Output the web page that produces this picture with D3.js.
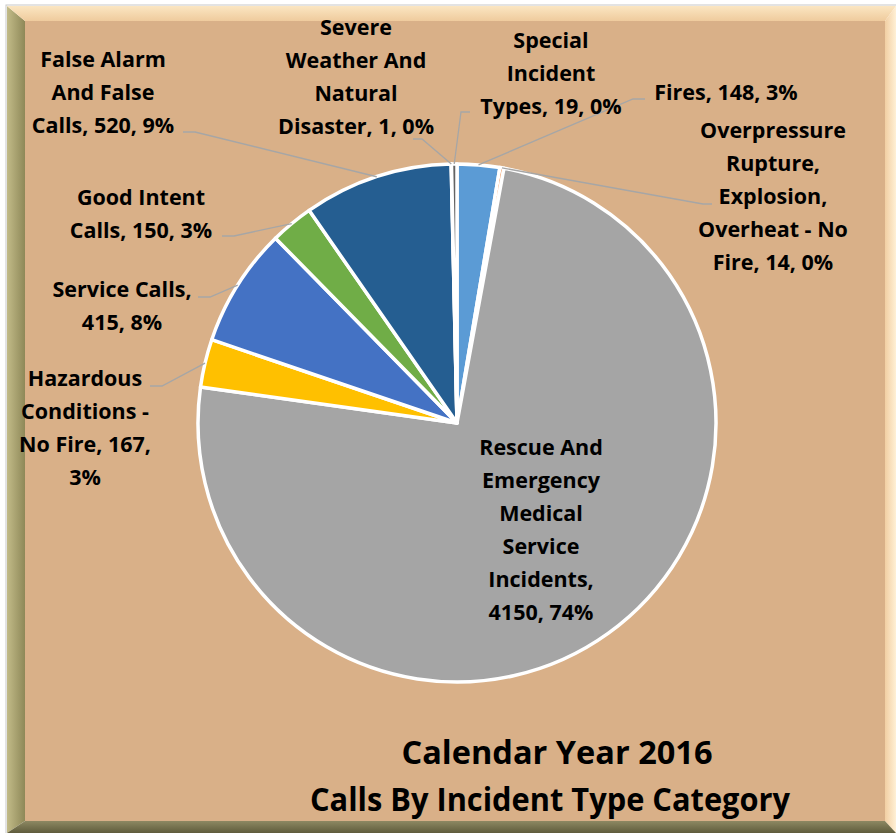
<!DOCTYPE html>
<html>
<head>
<meta charset="utf-8">
<script src="https://cdn.jsdelivr.net/npm/d3@7"></script>
<style>
  body { margin: 0; background: #ffffff; }
  svg { display: block; }
  .lbl { font-family: "Open Sans", Lato, sans-serif; font-weight: bold; font-size: 21.5px; fill: #000; }
  .ttl { font-family: "Open Sans", Lato, sans-serif; font-weight: bold; font-size: 33px; fill: #000; }
</style>
</head>
<body>
<script>
// data
var categories = ["Fires", "Overpressure Rupture, Explosion, Overheat - No Fire",
  "Rescue And Emergency Medical Service Incidents", "Hazardous Conditions - No Fire",
  "Service Calls", "Good Intent Calls", "False Alarm And False Calls",
  "Severe Weather And Natural Disaster", "Special Incident Types"];
var values = [148, 14, 4150, 167, 415, 150, 520, 1, 19];
var percents = ["3%", "0%", "74%", "3%", "8%", "3%", "9%", "0%", "0%"];
var colors = ["#5B9BD5", "#ED7D31", "#A5A5A5", "#FFC000", "#4472C4", "#70AD47", "#255E91", "#9E480E", "#636363"];
var labelLines = [
  ["Fires, 148, 3%"],
  ["Overpressure", "Rupture,", "Explosion,", "Overheat - No", "Fire, 14, 0%"],
  ["Rescue And", "Emergency", "Medical", "Service", "Incidents,", "4150, 74%"],
  ["Hazardous", "Conditions -", "No Fire, 167,", "3%"],
  ["Service Calls,", "415, 8%"],
  ["Good Intent", "Calls, 150, 3%"],
  ["False Alarm", "And False", "Calls, 520, 9%"],
  ["Severe", "Weather And", "Natural", "Disaster, 1, 0%"],
  ["Special", "Incident", "Types, 19, 0%"]
];
var titleLines = ["Calendar Year 2016", "Calls By Incident Type Category"];

// layout: label centre x, first baseline y, leader elbow and end (null = no leader)
var labelPos = [
  {x: 726, y: 100, elbow: [633, 99], end: [645, 99]},
  {x: 773, y: 138, elbow: [703, 204], end: [712, 204]},
  {x: 541, y: 455, elbow: null, end: null},
  {x: 85, y: 386, elbow: [162, 386], end: [150, 386]},
  {x: 122, y: 297, elbow: [210, 297], end: [198, 297]},
  {x: 141, y: 205, elbow: [234, 236], end: [222, 236]},
  {x: 103, y: 67, elbow: [195, 132], end: [183, 132]},
  {x: 356, y: 35, elbow: [422, 139], end: [413, 139]},
  {x: 551, y: 48, elbow: [461, 112], end: [470, 112]}
];

var width = 896, height = 833;
var cx = 457, cy = 423, radius = 259;
var lineH = 33;

var svg = d3.select("body").append("svg")
  .attr("width", width).attr("height", height);

// frame with bevel
var defs = svg.append("defs");
function grad(id, x1, y1, x2, y2, c1, c2) {
  var g = defs.append("linearGradient").attr("id", id)
    .attr("x1", x1).attr("y1", y1).attr("x2", x2).attr("y2", y2);
  g.append("stop").attr("offset", "0%").attr("stop-color", c1);
  g.append("stop").attr("offset", "100%").attr("stop-color", c2);
}
grad("gLeft", 0, 0, 1, 0, "#c2bb88", "#8e8858");
grad("gTop", 0, 0, 0, 1, "#fbe6c2", "#efcb9d");
grad("gRight", 0, 0, 1, 0, "#f2cfa3", "#fff0d6");
grad("gBottom", 0, 0, 0, 1, "#8d8862", "#5f5c3c");

var ox0 = 7, oy0 = 6, ox1 = 896, oy1 = 833;
var ix0 = 25, iy0 = 21, ix1 = 885, iy1 = 821;

svg.append("rect").attr("x", ox0 - 1).attr("y", oy0 - 1)
  .attr("width", ox1 - ox0 + 2).attr("height", oy1 - oy0 + 2)
  .attr("fill", "none").attr("stroke", "#c8c8c8").attr("stroke-width", 1);
svg.append("rect").attr("x", ix0).attr("y", iy0)
  .attr("width", ix1 - ix0).attr("height", iy1 - iy0).attr("fill", "#d9b088");

var bevel = [
  {pts: [[ox0, oy0], [ix0, iy0], [ix0, iy1], [ox0, oy1]], fill: "url(#gLeft)"},
  {pts: [[ox0, oy0], [ox1, oy0], [ix1, iy0], [ix0, iy0]], fill: "url(#gTop)"},
  {pts: [[ix1, iy0], [ox1, oy0], [ox1, oy1], [ix1, iy1]], fill: "url(#gRight)"},
  {pts: [[ix0, iy1], [ix1, iy1], [ox1, oy1], [ox0, oy1]], fill: "url(#gBottom)"}
];
svg.selectAll(".bevel").data(bevel).enter().append("polygon")
  .attr("class", "bevel")
  .attr("points", function(d) { return d.pts.map(function(p) { return p.join(","); }).join(" "); })
  .attr("fill", function(d) { return d.fill; });

// pie
var pie = d3.pie().sort(null).value(function(d) { return d; });
var arcs = pie(values);
var arc = d3.arc().innerRadius(0).outerRadius(radius);
var edge = d3.arc().innerRadius(radius).outerRadius(radius);

var g = svg.append("g").attr("transform", "translate(" + cx + "," + cy + ")");
g.selectAll(".slice").data(arcs).enter().append("path")
  .attr("class", "slice")
  .attr("d", arc)
  .attr("fill", function(d, i) { return colors[i]; })
  .attr("stroke", "#ffffff")
  .attr("stroke-width", 3.5)
  .attr("stroke-linejoin", "round");

// leader lines
arcs.forEach(function(d, i) {
  var p = labelPos[i];
  if (!p.elbow) return;
  var c = edge.centroid(d);
  var pts = [[cx + c[0], cy + c[1]], p.elbow, p.end];
  svg.append("path")
    .attr("d", d3.line()(pts))
    .attr("fill", "none")
    .attr("stroke", "#a6a6a6")
    .attr("stroke-width", 1.3);
});

// labels
labelLines.forEach(function(lines, i) {
  var p = labelPos[i];
  var t = svg.append("text").attr("class", "lbl").attr("text-anchor", "middle");
  lines.forEach(function(s, k) {
    t.append("tspan").attr("x", p.x).attr("y", p.y + k * lineH).text(s);
  });
});

// title
var titleY = [764, 811];
var titleW = [311, 480];
var titleX = [557, 550];
titleLines.forEach(function(s, k) {
  svg.append("text").attr("class", "ttl")
    .attr("text-anchor", "middle")
    .attr("x", titleX[k]).attr("y", titleY[k])
    .attr("textLength", titleW[k])
    .attr("lengthAdjust", "spacingAndGlyphs")
    .text(s);
});
</script>
</body>
</html>
